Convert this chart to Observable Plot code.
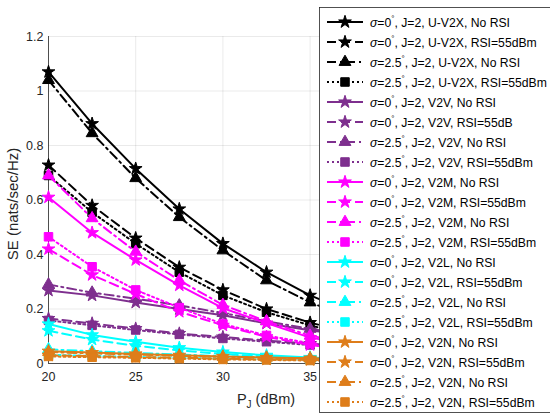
<!DOCTYPE html>
<html><head><meta charset="utf-8">
<script src="https://cdn.jsdelivr.net/npm/d3@7"></script>
<script src="https://cdn.jsdelivr.net/npm/@observablehq/plot@0.6"></script>
<style>body{margin:0;background:#fff}</style>
</head><body><div id="chart"></div>
<script>
const pj = [20, 22.5, 25, 27.5, 30, 32.5, 35, 37.5];
const xTicks = [20, 25, 30, 35];
const yTicks = [0, 0.2, 0.4, 0.6, 0.8, 1.0, 1.2];
const yTickLabels = ["0", "0.2", "0.4", "0.6", "0.8", "1", "1.2"];

const schemes = ["U-V2X", "V2V", "V2M", "V2L", "V2N"];
const schemeColors = ["#000000", "#7E2F8E", "#FF00FF", "#00FFFF", "#DE7D1A"];
const sigmas = ["0", "0", "2.5", "2.5"];
const rsiLabels = ["No RSI", "RSI=55dBm", "No RSI", "RSI=55dBm"];
const dashes = [null, "9,5", "9,4,2,4", "2,3"];
const symbols = ["star", "star", "triangle", "square"];
const radii = [4, 4, 4.4, 4.8];

// U-V2X
const uv2x_s0_noRSI  = [1.07, 0.88, 0.715, 0.567, 0.44, 0.335, 0.25, 0.185];
const uv2x_s0_RSI    = [0.728, 0.58, 0.46, 0.353, 0.27, 0.20, 0.15, 0.11];
const uv2x_s25_noRSI = [1.04, 0.845, 0.68, 0.537, 0.415, 0.305, 0.224, 0.165];
const uv2x_s25_RSI   = [0.69, 0.555, 0.44, 0.335, 0.25, 0.188, 0.14, 0.10];
// V2V
const v2v_s0_noRSI   = [0.268, 0.25, 0.224, 0.20, 0.177, 0.147, 0.122, 0.10];
const v2v_s0_RSI     = [0.165, 0.147, 0.128, 0.11, 0.097, 0.084, 0.073, 0.062];
const v2v_s25_noRSI  = [0.29, 0.26, 0.238, 0.213, 0.185, 0.155, 0.127, 0.105];
const v2v_s25_RSI    = [0.158, 0.14, 0.123, 0.107, 0.092, 0.08, 0.068, 0.058];
// V2M
const v2m_s0_noRSI   = [0.61, 0.48, 0.38, 0.287, 0.203, 0.148, 0.095, 0.068];
const v2m_s0_RSI     = [0.42, 0.325, 0.255, 0.19, 0.14, 0.098, 0.068, 0.05];
const v2m_s25_noRSI  = [0.69, 0.533, 0.41, 0.305, 0.215, 0.155, 0.102, 0.074];
const v2m_s25_RSI    = [0.465, 0.355, 0.27, 0.205, 0.145, 0.103, 0.074, 0.054];
// V2L
const v2l_s0_noRSI   = [0.145, 0.105, 0.08, 0.058, 0.042, 0.03, 0.022, 0.016];
const v2l_s0_RSI     = [0.12, 0.088, 0.065, 0.048, 0.035, 0.025, 0.018, 0.013];
const v2l_s25_noRSI  = [0.052, 0.045, 0.039, 0.033, 0.027, 0.023, 0.019, 0.016];
const v2l_s25_RSI    = [0.032, 0.028, 0.024, 0.021, 0.018, 0.015, 0.013, 0.011];
// V2N
const v2n_s0_noRSI   = [0.045, 0.04, 0.035, 0.03, 0.026, 0.022, 0.019, 0.016];
const v2n_s0_RSI     = [0.03, 0.027, 0.024, 0.021, 0.018, 0.015, 0.013, 0.011];
const v2n_s25_noRSI  = [0.042, 0.037, 0.033, 0.028, 0.024, 0.021, 0.018, 0.015];
const v2n_s25_RSI    = [0.026, 0.023, 0.021, 0.018, 0.015, 0.013, 0.011, 0.009];

const seriesValues = [
  [uv2x_s0_noRSI, uv2x_s0_RSI, uv2x_s25_noRSI, uv2x_s25_RSI],
  [v2v_s0_noRSI, v2v_s0_RSI, v2v_s25_noRSI, v2v_s25_RSI],
  [v2m_s0_noRSI, v2m_s0_RSI, v2m_s25_noRSI, v2m_s25_RSI],
  [v2l_s0_noRSI, v2l_s0_RSI, v2l_s25_noRSI, v2l_s25_RSI],
  [v2n_s0_noRSI, v2n_s0_RSI, v2n_s25_noRSI, v2n_s25_RSI]
];

const series = [];
schemes.forEach((s, i) => {
  for (let k = 0; k < 4; k++) {
    let rsi = rsiLabels[k];
    if (s === "V2V" && k === 1) rsi = "RSI=55dB";
    series.push({
      scheme: s, color: schemeColors[i], sigma: sigmas[k], rsi,
      dash: dashes[k], symbol: symbols[k], r: radii[k],
      rows: pj.map((x, j) => ({x, y: seriesValues[i][k][j]}))
    });
  }
});

const marks = [
  Plot.gridX([20, 25, 30, 35, 40, 45], {stroke: "#000", strokeOpacity: 0.12, strokeWidth: 0.7}),
  Plot.gridY(yTicks, {stroke: "#000", strokeOpacity: 0.12, strokeWidth: 0.7}),
  Plot.ruleX([20], {stroke: "#262626", strokeWidth: 0.8}),
  Plot.ruleY([0], {stroke: "#262626", strokeWidth: 0.8})
];
series.forEach(s => {
  marks.push(Plot.line(s.rows, {x: "x", y: "y", stroke: s.color, strokeWidth: 2, strokeDasharray: s.dash}));
  marks.push(Plot.dot(s.rows, {x: "x", y: "y", symbol: s.symbol, r: s.r, fill: s.color, stroke: s.color, strokeWidth: 1}));
});
marks.push(Plot.axisX(xTicks, {tickSize: 0, tickPadding: 9, label: null, fontSize: 12.5, color: "#262626"}));
marks.push(Plot.axisY(yTicks, {tickSize: 0, tickPadding: 5, fontSize: 12.5, color: "#262626",
  tickFormat: d => yTickLabels[yTicks.indexOf(d)], label: null}));

const chart = Plot.plot({
  width: 550, height: 419,
  marginLeft: 48, marginTop: 36, marginBottom: 56, marginRight: 66,
  x: {domain: [20, 45]},
  y: {domain: [0, 1.2]},
  style: {fontFamily: "'Liberation Sans', Arial, sans-serif", fontSize: "12px", background: "#fff", overflow: "visible"},
  marks
});
document.getElementById("chart").appendChild(chart);

const svg = d3.select(chart);
const ff = "'Liberation Sans', Arial, sans-serif";
// y label
svg.append("text").attr("transform", "translate(18,204) rotate(-90)").attr("text-anchor", "middle")
  .attr("font-size", 15).attr("fill", "#262626").attr("font-family", ff).text("SE (nats/sec/Hz)");
// x label with subscript
const xl = svg.append("text").attr("x", 266).attr("y", 404).attr("text-anchor", "middle")
  .attr("font-size", 14.5).attr("fill", "#262626").attr("font-family", ff);
xl.append("tspan").text("P");
xl.append("tspan").attr("font-size", 10).attr("dy", 4).text("J");
xl.append("tspan").attr("dy", -4).text(" (dBm)");

// legend
const lg = svg.append("g").attr("font-family", ff).attr("font-size", 12.2).attr("text-anchor", "start");
lg.append("rect").attr("x", 319.5).attr("y", 7.5).attr("width", 240).attr("height", 405)
  .attr("fill", "#fff").attr("stroke", "#262626").attr("stroke-width", 0.8);
const symMap = {star: d3.symbolStar, triangle: d3.symbolTriangle, square: d3.symbolSquare};
series.forEach((s, i) => {
  const y = 22 + i * 20;
  lg.append("line").attr("x1", 327).attr("x2", 363).attr("y1", y).attr("y2", y)
    .attr("stroke", s.color).attr("stroke-width", 2).attr("stroke-dasharray", s.dash);
  lg.append("path").attr("d", d3.symbol(symMap[s.symbol], Math.PI * s.r * s.r)())
    .attr("transform", `translate(345,${y})`).attr("fill", s.color).attr("stroke", s.color);
  const t = lg.append("text").attr("x", 370).attr("y", y + 5).attr("fill", "#000").attr("text-anchor", "start");
  t.append("tspan").attr("font-style", "italic").text("σ");
  t.append("tspan").text("=" + s.sigma);
  t.append("tspan").attr("font-size", 8).attr("dy", -6).text("°");
  t.append("tspan").attr("dy", 6).text(", J=2, " + s.scheme + ", " + s.rsi);
});
</script></body></html>
